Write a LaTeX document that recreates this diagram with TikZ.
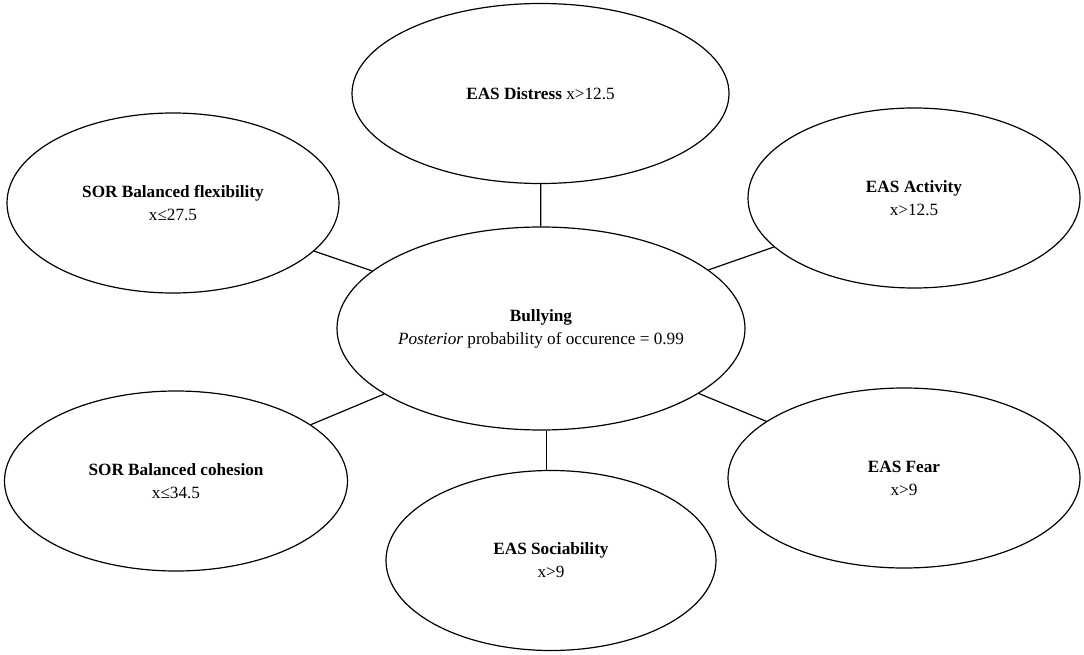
\documentclass[tikz,border=0pt]{standalone}
\usepackage{fontspec}
\setmainfont{Liberation Serif}
\usetikzlibrary{shapes.geometric}

\begin{document}
\begin{tikzpicture}[x=1pt,y=-1pt]
	\tikzset{every node/.style={font=\fontsize{17.2}{23}\selectfont,align=center}}
	\tikzset{leaf/.style={draw,ellipse,line width=1.2pt,inner sep=0pt,minimum height=180pt}}
	\tikzset{hub/.style={leaf,minimum width=408pt,minimum height=203pt}}
	\tikzset{link/.style={line width=1.2pt}}

	\useasboundingbox (0,0) rectangle (1084,655);

	% centre
	\node[hub] (bully) at (541,328.5) {\textbf{Bullying}\\\textit{Posterior} probability of occurence = 0.99};

	% predictors
	\node[leaf,minimum width=377pt] (distress) at (540.5,93.5) {\textbf{EAS Distress} x>12.5};
	\node[leaf,minimum width=332pt] (flex) at (173,203) {\textbf{SOR Balanced flexibility}\\x≤27.5};
	\node[leaf,minimum width=332pt] (activity) at (914,198) {\textbf{EAS Activity}\\x>12.5};
	\node[leaf,minimum width=343pt] (cohesion) at (176,481) {\textbf{SOR Balanced cohesion}\\x≤34.5};
	\node[leaf,minimum width=352pt] (fear) at (904,478) {\textbf{EAS Fear}\\x>9};
	\node[leaf,minimum width=330pt] (social) at (551,560.5) {\textbf{EAS Sociability}\\x>9};

	\coordinate (socx) at (546.3,0);

	\draw[link] (bully) -- (distress);
	\draw[link] (bully) -- (flex);
	\draw[link] (bully) -- (activity);
	\draw[link] (bully) -- (cohesion);
	\draw[link] (bully) -- (fear);
	\draw[link] (bully.south -| socx) -- (social.north -| socx);

\end{tikzpicture}
\end{document}
